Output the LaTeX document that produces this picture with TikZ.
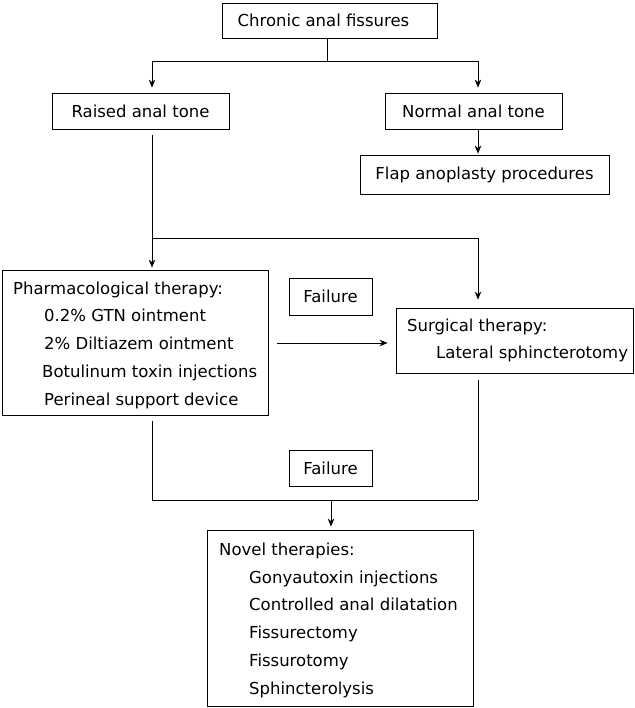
\documentclass[tikz,border=0pt]{standalone}
\usepackage{fontspec}
\setmainfont{DejaVu Sans}
\usetikzlibrary{arrows.meta,calc}
\begin{document}
\begin{tikzpicture}[x=1pt,y=-1pt,
  box/.style={draw,line width=0.8pt,inner sep=0pt,font=\fontsize{16.5}{20}\selectfont},
  txt/.style={anchor=base west,inner sep=0pt,font=\fontsize{16.5}{20}\selectfont},
  line/.style={line width=0.8pt},
  arr/.style={line width=0.8pt,-{Stealth[length=8pt,width=6.5pt,inset=2.5pt]}}]
\useasboundingbox (0,0) rectangle (634,708);
% boxes
\node[box,minimum width=215pt,minimum height=35pt] (chronic) at (329.5,20.5) {\hspace*{-12pt}Chronic anal fissures};
\node[box,minimum width=177pt,minimum height=36pt] (raised) at (140.5,111) {Raised anal tone};
\node[box,minimum width=177pt,minimum height=36pt] (normal) at (473.5,111) {Normal anal tone};
\node[box,minimum width=249pt,minimum height=39pt] (flap) at (484.5,174.5) {Flap anoplasty procedures};
\node[box,minimum width=266pt,minimum height=145pt] (pharm) at (135,342.5) {};
\node[box,minimum width=83pt,minimum height=37pt] (fail1) at (330.5,296.5) {Failure};
\node[box,minimum width=237pt,minimum height=65pt] (surg) at (514.5,340.5) {};
\node[box,minimum width=83pt,minimum height=36pt] (fail2) at (330.5,468) {Failure};
\node[box,minimum width=266pt,minimum height=176pt] (novel) at (340,618) {};
% texts in multi-line boxes
\node[txt] (p0) at (13,294) {Pharmacological therapy:};
\node[txt] (p1) at (44,321) {0.2\% GTN ointment};
\node[txt] (p2) at (44,349) {2\% Diltiazem ointment};
\node[txt] (p3) at (42,377) {Botulinum toxin injections};
\node[txt] (p4) at (44,405) {Perineal support device};
\node[txt] (s0) at (407,331) {Surgical therapy:};
\node[txt] (s1) at (436,358) {Lateral sphincterotomy};
\node[txt] (n0) at (219,555) {Novel therapies:};
\node[txt] (n1) at (249,583) {Gonyautoxin injections};
\node[txt] (n2) at (249,610) {Controlled anal dilatation};
\node[txt] (n3) at (249,638) {Fissurectomy};
\node[txt] (n4) at (249,666) {Fissurotomy};
\node[txt] (n5) at (249,694) {Sphincterolysis};
% junctions
\coordinate (jA) at (152,61);
\coordinate (jB) at (478,61);
\coordinate (jC) at (152,238);
\coordinate (jD) at (478,238);
\coordinate (jE) at (152,500);
\coordinate (jF) at (478,500);
\coordinate (jG) at (331,500);
\coordinate (hA) at (277,343);
% connectors
\draw[line] (chronic.south -| 327,0) -- (327,61);
\draw[line] (jA) -- (jB);
\draw[arr,shorten >=5pt] (jA) -- (jA |- raised.north);
\draw[arr,shorten >=5pt] (jB) -- (jB |- normal.north);
\draw[arr,shorten >=1pt] (jB |- normal.south) -- (jB |- flap.north);
\draw[line,shorten <=6pt] (jA |- raised.south) -- (jC);
\draw[line] (jC) -- (jD);
\draw[arr,shorten >=2pt] (jC) -- (jC |- pharm.north);
\draw[arr,shorten >=8pt] (jD) -- (jD |- surg.north);
\draw[arr,shorten >=8pt] (hA) -- (hA -| surg.west);
\draw[line,shorten <=6pt] (jE |- pharm.south) -- (jE);
\draw[line,shorten <=7pt] (jF |- surg.south) -- (jF);
\draw[line] (jE) -- (jF);
\draw[arr,shorten >=3pt] (jG) -- (jG |- novel.north);
\end{tikzpicture}
\end{document}
